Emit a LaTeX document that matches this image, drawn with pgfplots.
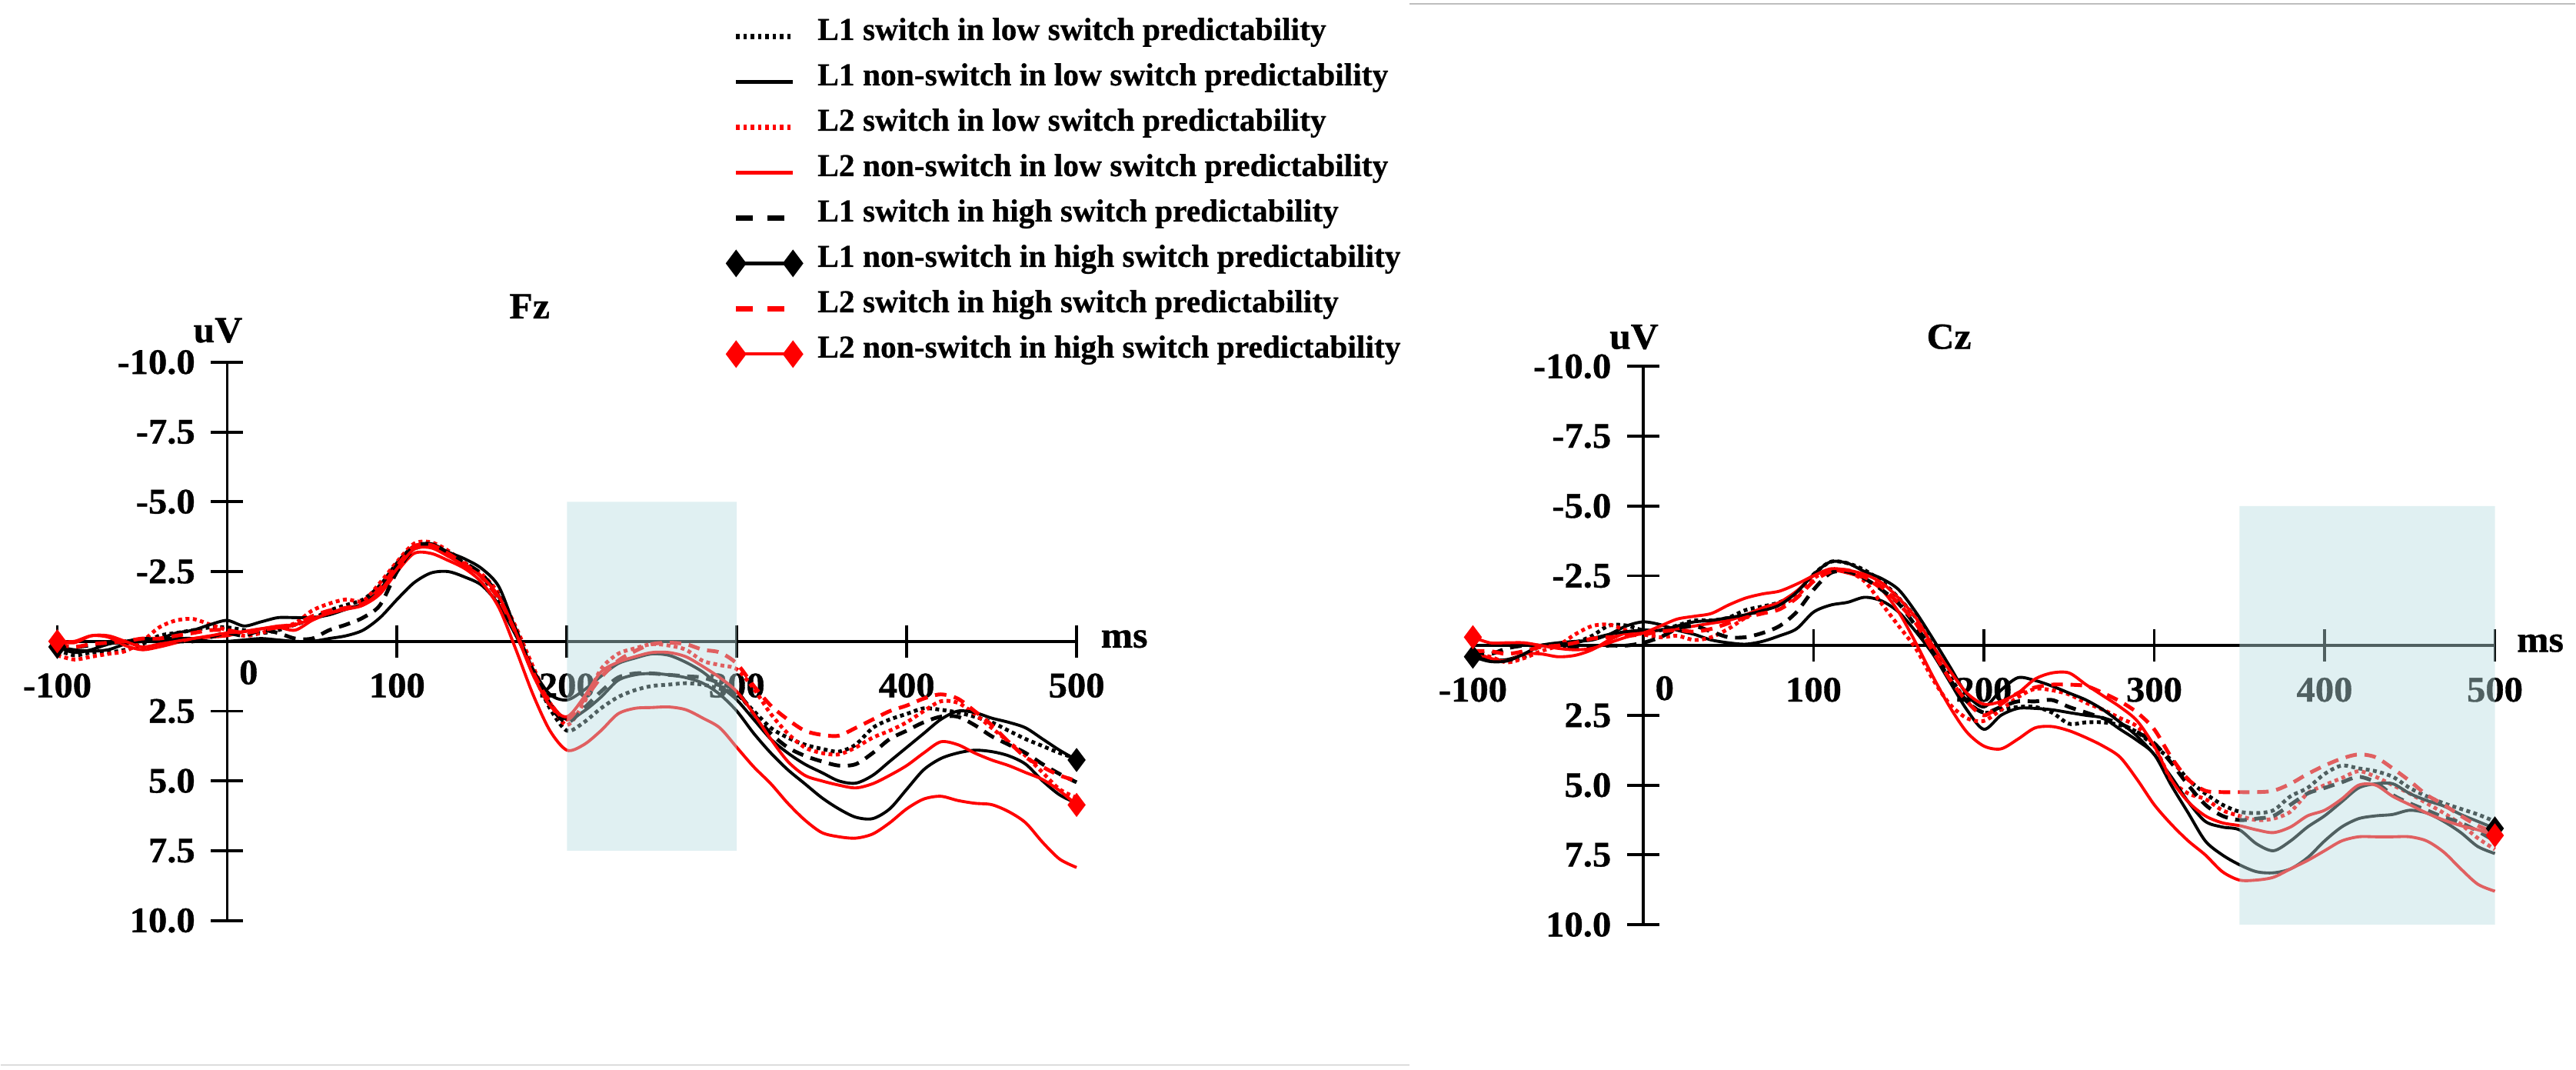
\documentclass[border=0pt]{standalone}
\usepackage{fontspec}
\setmainfont{Liberation Serif}
\newfontfamily\axfont[FakeStretch=1.04,FakeBold=0.8]{Liberation Serif}
\newfontfamily\legfont[FakeBold=0.6]{Liberation Serif}
\usepackage{pgfplots}
\usepackage{pgfplotstable}
\pgfplotsset{compat=1.18}
\definecolor{boxc}{RGB}{184,221,224}
\definecolor{framegray}{RGB}{190,190,190}
\newcommand{\tickf}{\axfont\bfseries\fontsize{13.3pt}{15pt}\selectfont}
\newcommand{\titf}{\axfont\bfseries\fontsize{13.6pt}{15pt}\selectfont}
\newcommand{\legf}{\legfont\bfseries\fontsize{11.8pt}{14pt}\selectfont}

\pgfplotstableread{
t s1 s2 s3 s4 s5 s6 s7 s8
-100 0.3 0.2 0.5 0.0 0.2 0.2 0.1 0.0
-90 0.5 0.3 0.65 0.0 0.2 0.4 0.2 0.05
-80 0.4 0.35 0.55 -0.2 0.15 0.3 0.1 -0.2
-70 0.4 0.3 0.45 -0.15 0.1 0.1 0.05 -0.2
-60 0.3 0.1 0.35 0.15 0.0 0.0 0.0 0.0
-50 0.1 0.0 0.0 0.3 0.0 -0.1 -0.1 0.2
-40 -0.2 -0.1 -0.5 0.2 0.0 -0.1 -0.1 0.1
-30 -0.3 -0.1 -0.75 0.05 0.0 -0.3 -0.2 0.0
-20 -0.4 -0.1 -0.8 -0.1 0.0 -0.4 -0.3 -0.1
-10 -0.5 0.0 -0.6 -0.15 -0.15 -0.6 -0.4 -0.2
0 -0.5 0.0 -0.4 -0.2 -0.3 -0.75 -0.4 -0.3
10 -0.4 -0.05 -0.2 -0.35 -0.2 -0.55 -0.3 -0.35
20 -0.3 -0.1 -0.3 -0.45 -0.4 -0.7 -0.4 -0.45
30 -0.4 -0.05 -0.5 -0.5 -0.3 -0.85 -0.5 -0.55
40 -0.6 0.0 -0.65 -0.4 -0.1 -0.85 -0.6 -0.6
50 -0.8 0.0 -1.1 -0.75 -0.1 -0.85 -0.9 -0.8
60 -1.1 -0.1 -1.35 -1.0 -0.4 -0.95 -1.1 -1.0
70 -1.3 -0.2 -1.5 -1.2 -0.6 -1.15 -1.2 -1.15
80 -1.5 -0.4 -1.45 -1.3 -0.85 -1.35 -1.35 -1.3
90 -2.0 -0.85 -2.1 -1.7 -1.3 -1.85 -1.9 -1.8
100 -2.8 -1.5 -2.85 -2.5 -2.5 -2.75 -2.7 -2.6
110 -3.4 -2.1 -3.5 -3.15 -3.3 -3.4 -3.4 -3.3
120 -3.4 -2.45 -3.55 -3.15 -3.4 -3.5 -3.45 -3.35
130 -3.1 -2.5 -3.25 -2.9 -3.1 -3.2 -3.15 -3.05
140 -2.8 -2.3 -2.8 -2.6 -2.8 -2.95 -2.75 -2.7
150 -2.3 -2.0 -2.4 -2.1 -2.4 -2.6 -2.3 -2.3
160 -1.5 -1.3 -1.7 -1.2 -1.6 -1.95 -1.5 -1.6
170 -0.3 -0.2 -0.5 0.3 -0.4 -0.4 -0.3 -0.3
180 1.1 1.0 0.9 1.9 1.1 1.0 1.1 1.2
190 2.4 2.2 2.2 3.2 2.3 1.9 2.2 2.3
200 3.2 2.8 3.0 3.9 2.9 2.1 2.8 2.7
210 2.9 2.5 2.2 3.7 2.4 1.75 2.1 2.0
220 2.4 2.0 1.0 3.2 1.8 1.25 1.3 1.1
230 2.0 1.4 0.45 2.6 1.3 0.8 0.7 0.75
240 1.75 1.2 0.25 2.4 1.15 0.6 0.35 0.55
250 1.6 1.15 0.1 2.37 1.15 0.45 0.1 0.4
260 1.55 1.2 0.15 2.35 1.2 0.5 0.05 0.4
270 1.5 1.3 0.3 2.45 1.25 0.75 0.1 0.55
280 1.55 1.5 0.7 2.75 1.3 1.1 0.3 0.9
290 1.7 1.9 0.85 3.1 1.5 1.6 0.4 1.3
300 1.9 2.5 1.0 3.8 1.8 2.1 0.8 1.8
310 2.5 3.3 1.7 4.5 2.6 2.8 1.6 2.6
320 3.1 4.0 2.6 5.1 3.3 3.5 2.3 3.5
330 3.45 4.6 3.3 5.8 3.8 4.0 2.8 4.3
340 3.7 5.1 3.8 6.4 4.1 4.4 3.2 4.8
350 3.85 5.6 4.0 6.85 4.3 4.7 3.35 5.0
360 3.95 6.0 4.05 7.0 4.45 5.0 3.38 5.15
370 3.7 6.3 3.8 7.05 4.4 5.08 3.1 5.25
380 3.1 6.35 3.45 6.9 4.0 4.8 2.8 5.1
390 2.8 6.0 3.2 6.5 3.5 4.3 2.5 4.8
400 2.6 5.3 2.9 6.0 3.2 3.8 2.3 4.45
410 2.4 4.6 2.5 5.65 2.9 3.3 2.05 4.0
420 2.45 4.2 2.15 5.55 2.7 2.8 1.9 3.6
430 2.55 4.0 2.2 5.7 2.7 2.5 2.05 3.7
440 2.7 3.9 2.6 5.8 3.0 2.55 2.5 4.0
450 2.9 3.95 3.1 5.85 3.4 2.75 3.0 4.25
460 3.2 4.1 3.6 6.1 3.7 2.9 3.6 4.45
470 3.5 4.4 4.1 6.5 4.0 3.1 4.15 4.7
480 3.75 5.0 4.7 7.2 4.4 3.5 4.5 4.95
490 4.0 5.5 5.3 7.8 4.75 3.9 4.8 5.35
500 4.2 5.8 5.6 8.1 5.05 4.25 5.0 5.86
}\fzdata

\pgfplotstableread{
t s1 s2 s3 s4 s5 s6 s7 s8
-100 0.3 0.3 0.3 0.2 0.2 0.4 0.2 -0.3
-90 0.5 0.5 0.4 0.45 0.3 0.57 0.2 -0.1
-80 0.55 0.5 0.6 0.55 0.1 0.55 0.3 -0.1
-70 0.4 0.3 0.45 0.3 0.0 0.3 0.2 -0.1
-60 0.0 0.0 0.2 0.3 0.0 0.0 0.05 0.0
-50 0.05 -0.1 0.0 0.4 0.0 -0.05 0.0 0.1
-40 -0.1 -0.15 -0.4 0.35 0.05 -0.1 -0.1 0.15
-30 -0.35 -0.2 -0.7 0.15 0.05 -0.25 -0.25 0.1
-20 -0.72 -0.4 -0.75 -0.2 0.0 -0.4 -0.3 -0.1
-10 -0.72 -0.7 -0.55 -0.45 0.0 -0.5 -0.35 -0.3
0 -0.55 -0.85 -0.4 -0.5 -0.1 -0.55 -0.4 -0.45
10 -0.55 -0.75 -0.3 -0.55 -0.3 -0.55 -0.5 -0.7
20 -0.72 -0.55 -0.35 -0.6 -0.6 -0.7 -0.55 -0.95
30 -0.9 -0.4 -0.2 -0.7 -0.7 -0.85 -0.5 -1.05
40 -0.9 -0.2 -0.3 -0.8 -0.5 -0.9 -0.6 -1.15
50 -1.0 -0.1 -0.6 -0.9 -0.3 -1.0 -0.8 -1.45
60 -1.27 -0.05 -1.0 -1.1 -0.3 -1.1 -1.0 -1.7
70 -1.4 -0.15 -1.3 -1.35 -0.45 -1.25 -1.15 -1.85
80 -1.55 -0.35 -1.45 -1.55 -0.7 -1.45 -1.3 -1.95
90 -1.9 -0.6 -1.75 -1.95 -1.2 -1.9 -1.7 -2.2
100 -2.55 -1.2 -2.4 -2.5 -2.0 -2.55 -2.3 -2.5
110 -3.0 -1.45 -2.7 -2.7 -2.6 -3.0 -2.65 -2.75
120 -2.95 -1.55 -2.65 -2.6 -2.65 -2.95 -2.7 -2.7
130 -2.7 -1.73 -2.3 -2.4 -2.4 -2.65 -2.45 -2.55
140 -2.3 -1.6 -1.5 -2.0 -2.0 -2.4 -2.1 -2.25
150 -1.7 -1.2 -0.7 -1.2 -1.5 -2.0 -1.5 -1.7
160 -1.0 -0.5 0.1 -0.1 -0.7 -1.2 -0.8 -1.0
170 0.0 0.3 1.2 1.1 0.2 -0.25 0.2 0.0
180 1.1 1.3 2.1 2.2 1.2 0.75 1.2 0.9
190 2.0 2.3 2.6 3.1 2.0 1.75 2.0 1.7
200 2.4 3.0 2.7 3.6 2.4 2.2 2.5 2.1
210 2.3 2.5 2.3 3.7 2.2 1.6 2.1 2.0
220 2.2 2.25 1.85 3.35 2.0 1.15 1.7 1.7
230 2.2 2.25 1.55 2.95 2.0 1.25 1.5 1.2
240 2.4 2.3 1.6 2.9 1.95 1.45 1.4 0.98
250 2.8 2.4 1.75 3.05 2.2 1.7 1.4 0.98
260 2.75 2.5 2.05 3.3 2.4 1.95 1.45 1.4
270 2.75 2.6 2.3 3.6 2.6 2.3 1.7 1.8
280 2.85 3.0 2.6 4.0 2.8 2.75 2.0 2.2
290 3.1 3.4 2.9 4.8 3.1 3.25 2.4 2.7
300 3.6 3.9 3.6 5.7 3.5 3.9 3.0 3.6
310 4.1 5.0 4.8 6.4 4.2 4.7 4.0 4.8
320 4.8 6.0 5.3 7.0 5.0 5.6 4.8 5.6
330 5.3 7.0 5.5 7.5 5.7 6.3 5.2 6.1
340 5.7 7.5 5.9 8.1 6.1 6.5 5.25 6.35
350 5.95 7.85 6.1 8.4 6.25 6.6 5.25 6.45
360 6.0 8.1 6.25 8.4 6.2 7.1 5.25 6.6
370 5.9 8.14 6.2 8.3 6.1 7.35 5.2 6.7
380 5.4 8.0 5.95 8.0 5.7 7.0 4.95 6.5
390 5.1 7.6 5.3 7.7 5.3 6.5 4.6 6.1
400 4.6 7.0 5.0 7.35 5.1 6.1 4.3 5.9
410 4.3 6.5 4.75 7.0 4.9 5.6 4.05 5.5
420 4.4 6.2 4.5 6.85 4.7 5.1 3.9 5.0
430 4.5 6.1 4.7 6.85 4.9 4.95 4.0 5.0
440 4.7 6.05 5.0 6.85 5.35 4.95 4.4 5.4
450 5.1 5.9 5.3 6.85 5.65 5.3 4.85 5.7
460 5.4 6.0 5.65 7.0 5.9 5.55 5.35 6.0
470 5.65 6.3 6.0 7.4 6.15 5.75 5.7 6.25
480 5.85 6.7 6.4 8.0 6.35 6.05 6.1 6.45
490 6.05 7.2 6.9 8.55 6.65 6.3 6.45 6.6
500 6.3 7.45 7.3 8.8 7.0 6.55 6.7 6.8
}\czdata

\pgfplotsset{
  sA/.style={black, line width=1.4pt, dash pattern=on 0.5mm off 0.45mm, smooth},
  sB/.style={black, line width=1.1pt, smooth},
  sC/.style={red, line width=1.4pt, dash pattern=on 0.5mm off 0.45mm, smooth},
  sD/.style={red, line width=1.1pt, smooth},
  sE/.style={black, line width=1.4pt, dash pattern=on 1.5mm off 1.0mm, smooth},
  sF/.style={black, line width=1.1pt, smooth, mark=diamond*, mark size=1.25mm, mark options={solid}, mark indices={1,61}},
  sG/.style={red, line width=1.4pt, dash pattern=on 1.5mm off 1.0mm, smooth},
  sH/.style={red, line width=1.1pt, smooth, mark=diamond*, mark size=1.25mm, mark options={solid}, mark indices={1,61}},
  legline/.style={legend image code/.code={%
      \path[draw=none, fill=none] (-1.2mm,-2.25mm) rectangle (8.6mm,0.75mm);
      \draw[##1] (0mm,0mm) -- (7.4mm,0mm);}},
  legdiam/.style={legend image code/.code={%
      \path[draw=none, fill=none] (-1.2mm,-2.25mm) rectangle (8.6mm,0.75mm);
      \draw[##1] plot coordinates {(0mm,0mm) (7.4mm,0mm)};}},
  erp/.style={
    set layers,
    scale only axis,
    height=72.6mm,
    xmin=-100, xmax=500, ymin=-10, ymax=10,
    y dir=reverse,
    axis lines=middle,
    axis line style={-, line width=1.1pt, black},
    xtick={-100,100,200,300,400,500},
    xticklabels={-100,100,200,300,400,500},
    ytick={-10,-7.5,-5,-2.5,2.5,5,7.5,10},
    yticklabels={-10.0,-7.5,-5.0,-2.5,2.5,5.0,7.5,10.0},
    tick align=center,
    major tick length=4.2mm,
    tick style={line width=1.1pt, black},
    xticklabel style={font=\tickf, anchor=north, inner sep=0pt, yshift=-2.0mm},
    yticklabel style={font=\tickf, anchor=east, inner sep=0pt, xshift=-2.0mm},
    clip=false,
  },
}

\begin{document}
\begin{tikzpicture}
\path (0,0) rectangle (335mm,-139.1mm);
\draw[framegray, line width=0.3pt] (183.3mm,-0.5mm) -- (335mm,-0.5mm);
\draw[framegray, line width=0.3pt] (0mm,-138.5mm) -- (183.3mm,-138.5mm);

% ---------------- Fz ----------------
\begin{axis}[erp, width=132.6mm, at={(7.4mm,-119.7mm)}, anchor=south west,
  legend style={at={(axis description cs:0.6569,1.624)}, anchor=north west,
    draw=none, fill=none, inner sep=0pt, outer sep=0pt, font=\legf,
    row sep=0pt,
    nodes={inner sep=0pt, outer sep=0pt, text height=3.4mm, text depth=2.5mm},
    /tikz/every odd column/.append style={column sep=2.0mm}},
  legend cell align=left]
\addlegendimage{legline, black, line width=1.8pt, dash pattern=on 0.45mm off 0.5mm}
\addlegendentry{L1 switch in low switch predictability}
\addlegendimage{legline, black, line width=1.2pt}
\addlegendentry{L1 non-switch in low switch predictability}
\addlegendimage{legline, red, line width=1.8pt, dash pattern=on 0.45mm off 0.5mm}
\addlegendentry{L2 switch in low switch predictability}
\addlegendimage{legline, red, line width=1.2pt}
\addlegendentry{L2 non-switch in low switch predictability}
\addlegendimage{legline, black, line width=1.8pt, dash pattern=on 2.2mm off 1.9mm}
\addlegendentry{L1 switch in high switch predictability}
\addlegendimage{legdiam, black, line width=1.2pt, mark=diamond*, mark size=1.45mm}
\addlegendentry{L1 non-switch in high switch predictability}
\addlegendimage{legline, red, line width=1.8pt, dash pattern=on 2.2mm off 1.9mm}
\addlegendentry{L2 switch in high switch predictability}
\addlegendimage{legdiam, red, line width=1.2pt, mark=diamond*, mark size=1.45mm}
\addlegendentry{L2 non-switch in high switch predictability}

\addplot[sA] table[x=t, y=s1] {\fzdata};
\addplot[sB] table[x=t, y=s2] {\fzdata};
\addplot[sC] table[x=t, y=s3] {\fzdata};
\addplot[sD] table[x=t, y=s4] {\fzdata};
\addplot[sE] table[x=t, y=s5] {\fzdata};
\addplot[sF] table[x=t, y=s6] {\fzdata};
\addplot[sG] table[x=t, y=s7] {\fzdata};
\addplot[sH] table[x=t, y=s8] {\fzdata};

\node[font=\tickf, anchor=north west, inner sep=0pt] at (axis cs:0,0) [xshift=1.5mm, yshift=-2.4mm] {0};
\node[font=\titf, anchor=mid west, inner sep=0pt] at (axis cs:500,0) [xshift=3.1mm] {ms};
\node[font=\titf, anchor=base, inner sep=0pt] at (axis cs:0,-10) [xshift=-1.2mm, yshift=2.6mm] {uV};
\node[font=\titf, anchor=base, inner sep=0pt] at (axis cs:178,-10) [yshift=5.7mm] {Fz};

\addplot[draw=none, fill=boxc, fill opacity=0.435] coordinates {(200,-5) (300,-5) (300,7.5) (200,7.5) (200,-5)};
\end{axis}

% ---------------- Cz ----------------
\begin{axis}[erp, width=132.95mm, at={(191.55mm,-120.25mm)}, anchor=south west]
\addplot[sA] table[x=t, y=s1] {\czdata};
\addplot[sB] table[x=t, y=s2] {\czdata};
\addplot[sC] table[x=t, y=s3] {\czdata};
\addplot[sD] table[x=t, y=s4] {\czdata};
\addplot[sE] table[x=t, y=s5] {\czdata};
\addplot[sF] table[x=t, y=s6] {\czdata};
\addplot[sG] table[x=t, y=s7] {\czdata};
\addplot[sH] table[x=t, y=s8] {\czdata};

\node[font=\tickf, anchor=north west, inner sep=0pt] at (axis cs:0,0) [xshift=1.5mm, yshift=-3.9mm] {0};
\node[font=\titf, anchor=mid west, inner sep=0pt] at (axis cs:500,0) [xshift=2.8mm] {ms};
\node[font=\titf, anchor=base, inner sep=0pt] at (axis cs:0,-10) [xshift=-1.2mm, yshift=2.3mm] {uV};
\node[font=\titf, anchor=base, inner sep=0pt] at (axis cs:179.5,-10) [yshift=2.3mm] {Cz};

\addplot[draw=none, fill=boxc, fill opacity=0.435] coordinates {(350,-5) (500,-5) (500,10) (350,10) (350,-5)};
\end{axis}
\end{tikzpicture}
\end{document}
